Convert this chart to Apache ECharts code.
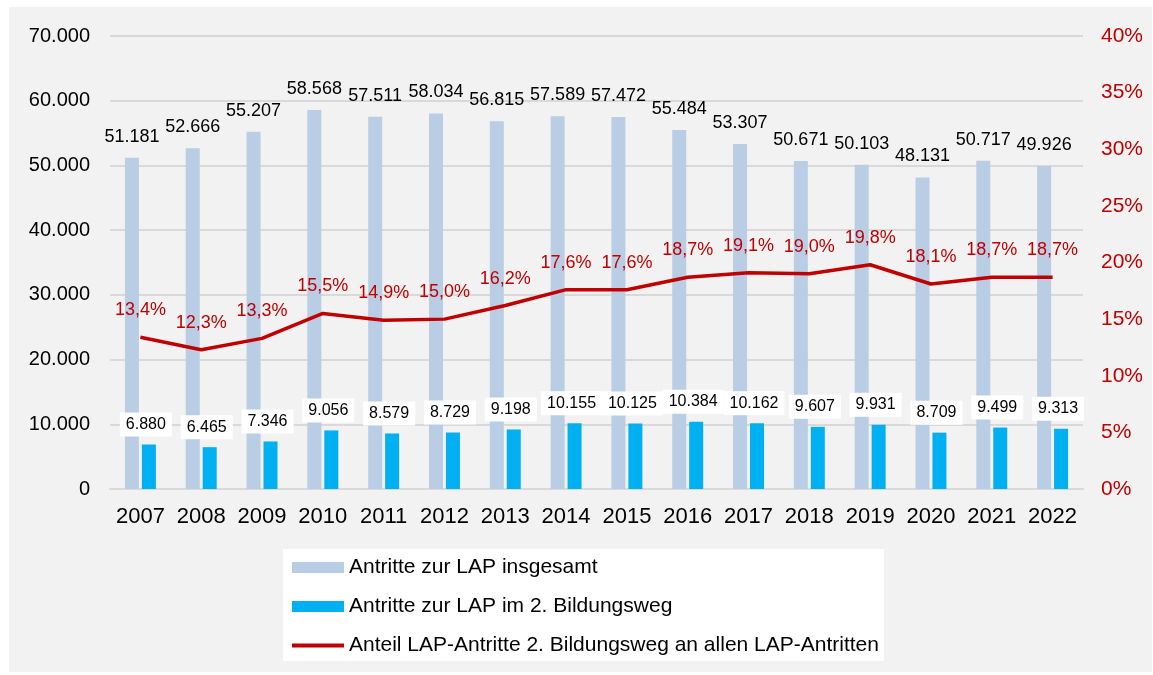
<!DOCTYPE html>
<html lang="de">
<head>
    <meta charset="utf-8">
    <title>Antritte zur LAP</title>
    <style>
        html, body {
            margin: 0;
            padding: 0;
            background: #fff;
        }

        #panel {
            position: absolute;
            left: 9px;
            top: 7px;
            width: 1143px;
            height: 665px;
            background: #f2f2f2;
        }

        #chart {
            position: absolute;
            left: 0;
            top: 0;
            width: 1153px;
            height: 675px;
        }
    </style>
</head>
<body>
<div id="panel"></div>
<div id="chart"></div>

<script src="https://cdn.jsdelivr.net/npm/echarts@6/dist/echarts.min.js"></script>
<script>
    // Daten aus der Grafik
    let years = ['2007', '2008', '2009', '2010', '2011', '2012', '2013', '2014',
        '2015', '2016', '2017', '2018', '2019', '2020', '2021', '2022'];
    let totalEntries = [51181, 52666, 55207, 58568, 57511, 58034, 56815, 57589,
        57472, 55484, 53307, 50671, 50103, 48131, 50717, 49926];
    let secondPathEntries = [6880, 6465, 7346, 9056, 8579, 8729, 9198, 10155,
        10125, 10384, 10162, 9607, 9931, 8709, 9499, 9313];
    let sharePercent = [13.4, 12.3, 13.3, 15.5, 14.9, 15.0, 16.2, 17.6,
        17.6, 18.7, 19.1, 19.0, 19.8, 18.1, 18.7, 18.7];

    let font = 'Liberation Sans, Arial, sans-serif';

    // Tausenderpunkt
    function fmt(v) {
        return String(v).replace(/\B(?=(\d{3})+(?!\d))/g, '.');
    }

    let chart = echarts.init(document.getElementById('chart'));

    let option = {
        backgroundColor: 'transparent',
        animation: false,
        textStyle: {fontFamily: font},
        grid: {
            left: 110,
            right: 70,
            top: 36,
            bottom: 186
        },
        legend: {
            orient: 'vertical',
            left: 283,
            top: 549,
            backgroundColor: '#fff',
            padding: [8, 5, 5, 9],
            itemWidth: 52,
            itemHeight: 11,
            itemGap: 18,
            textStyle: {fontSize: 21, color: '#000', fontFamily: font},
            data: [
                {name: 'Antritte zur LAP insgesamt', icon: 'rect'},
                {name: 'Antritte zur LAP im 2. Bildungsweg', icon: 'rect'},
                {
                    name: 'Anteil LAP-Antritte 2. Bildungsweg an allen LAP-Antritten',
                    // nur ein Strich, ohne Punkt
                    icon: 'path://M0,0 L0.01,0 M0,3.6 L52,3.6 L52,7.4 L0,7.4 Z M0,11 L0.01,11'
                }
            ]
        },
        xAxis: {
            type: 'category',
            data: years,
            axisTick: {show: false},
            axisLine: {lineStyle: {color: '#d9d9d9', width: 2}},
            axisLabel: {color: '#000', fontSize: 22, margin: 17, interval: 0, fontFamily: font}
        },
        yAxis: [
            {
                type: 'value',
                min: 0,
                max: 70000,
                interval: 10000,
                axisLine: {show: false},
                axisTick: {show: false},
                splitLine: {lineStyle: {color: '#d9d9d9', width: 2}},
                axisLabel: {
                    color: '#000',
                    fontSize: 20,
                    margin: 20,
                    fontFamily: font,
                    formatter: function (v) {
                        return fmt(v);
                    }
                }
            },
            {
                type: 'value',
                min: 0,
                max: 40,
                interval: 5,
                axisLine: {show: false},
                axisTick: {show: false},
                splitLine: {show: false},
                axisLabel: {
                    color: '#c00000',
                    fontSize: 21,
                    margin: 18,
                    fontFamily: font,
                    formatter: '{value}%'
                }
            }
        ],
        series: [
            {
                name: 'Antritte zur LAP insgesamt',
                type: 'bar',
                data: totalEntries,
                barWidth: 14,
                barGap: '21%',
                itemStyle: {color: '#b9cde5'},
                label: {
                    show: true,
                    position: 'top',
                    distance: 12,
                    color: '#000',
                    fontSize: 18,
                    fontFamily: font,
                    formatter: function (p) {
                        return fmt(p.value);
                    }
                }
            },
            {
                name: 'Antritte zur LAP im 2. Bildungsweg',
                type: 'bar',
                data: secondPathEntries,
                barWidth: 14,
                itemStyle: {color: '#00b0f0'},
                label: {
                    show: true,
                    position: 'top',
                    distance: 8,
                    offset: [-3, 0],
                    color: '#000',
                    fontSize: 16,
                    fontFamily: font,
                    backgroundColor: '#fff',
                    padding: [4, 6],
                    formatter: function (p) {
                        return fmt(p.value);
                    }
                }
            },
            {
                name: 'Anteil LAP-Antritte 2. Bildungsweg an allen LAP-Antritten',
                type: 'line',
                yAxisIndex: 1,
                data: sharePercent,
                symbol: 'circle',
                symbolSize: 0,
                z: 5,
                lineStyle: {color: '#c00000', width: 3.5},
                itemStyle: {color: '#c00000'},
                label: {
                    show: true,
                    position: 'top',
                    distance: 18,
                    color: '#c00000',
                    fontSize: 18,
                    fontFamily: font,
                    formatter: function (p) {
                        return p.value.toFixed(1).replace('.', ',') + '%';
                    }
                }
            }
        ]
    };

    chart.setOption(option);
</script>
</body>
</html>
